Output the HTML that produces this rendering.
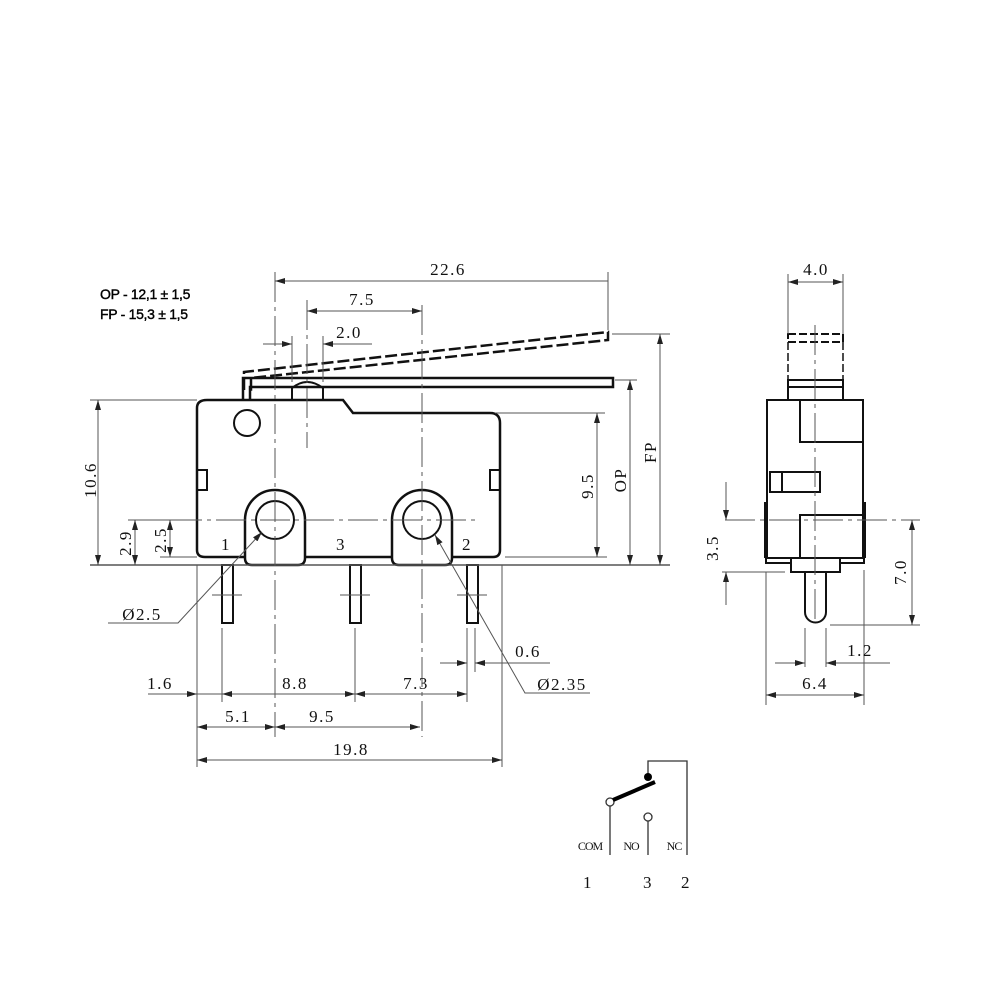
<!DOCTYPE html>
<html><head><meta charset="utf-8"><style>
html,body{margin:0;padding:0;background:#fff;}
svg{display:block;}
text{font-family:"Liberation Serif",serif;font-size:17px;fill:#111;letter-spacing:1.5px;}
.s{font-family:"Liberation Sans",sans-serif;font-size:14px;letter-spacing:-0.3px;fill:#000;stroke:#000;stroke-width:0.4px;}
</style></head><body>
<svg width="1000" height="1000" viewBox="0 0 1000 1000" xmlns="http://www.w3.org/2000/svg">
<defs>
<marker id="a" viewBox="0 0 10 6" refX="10" refY="3" markerWidth="10" markerHeight="6" orient="auto-start-reverse" markerUnits="userSpaceOnUse"><path d="M0,0 L10,3 L0,6 z" fill="#222"/></marker>
</defs>
<g fill="none" stroke="#111">
<path d="M197,408 Q197,400 207,400 L343,400 L353,413 L490,413 Q500,413 500,423 L500,550 Q500,557 493,557 L205,557 Q197,557 197,550 Z" stroke-width="2.5"/>
<circle cx="247" cy="423" r="13" stroke-width="2"/>
<rect x="197" y="470" width="10" height="20" stroke-width="2"/>
<rect x="490" y="470" width="10" height="20" stroke-width="2"/>
<path d="M245,558 L245,520 A30,30 0 0 1 305,520 L305,558 Q305,565 298,565 L252,565 Q245,565 245,558" fill="#fff" stroke-width="2.5"/>
<circle cx="275" cy="520" r="19" stroke-width="2"/>
<path d="M392,558 L392,520 A30,30 0 0 1 452,520 L452,558 Q452,565 445,565 L399,565 Q392,565 392,558" fill="#fff" stroke-width="2.5"/>
<circle cx="422" cy="520" r="19" stroke-width="2"/>
<path d="M292,400 L292,388 Q307,376 323,388 L323,400" stroke-width="2"/>
<path d="M243,400 L243,378 L613,378 L613,387 L250,387 L250,400" stroke-width="2.5"/>
<path d="M244,390 L244,372 L608,332 L608,340 L251,378 L251,392" stroke-width="2.5" stroke-dasharray="12,4"/>
<rect x="222" y="565" width="11" height="58" stroke-width="2"/>
<rect x="350" y="565" width="11" height="58" stroke-width="2"/>
<rect x="467" y="565" width="11" height="58" stroke-width="2"/>
</g>
<g stroke="#555" stroke-width="1" fill="none">
<line x1="212" y1="595" x2="242" y2="595"/><line x1="340" y1="595" x2="370" y2="595"/><line x1="457" y1="595" x2="487" y2="595"/>
<line x1="275" y1="272" x2="275" y2="737" stroke-dasharray="30,5,4,5"/>
<line x1="422" y1="305" x2="422" y2="737" stroke-dasharray="30,5,4,5"/>
<line x1="307" y1="300" x2="307" y2="448" stroke-dasharray="30,5,4,5"/>
<line x1="128" y1="520" x2="475" y2="520" stroke-dasharray="30,5,4,5"/>
<line x1="608" y1="272" x2="608" y2="330"/>
<line x1="292" y1="336" x2="292" y2="382"/><line x1="323" y1="336" x2="323" y2="382"/>
<line x1="90" y1="400" x2="197" y2="400"/>
<line x1="90" y1="565" x2="670" y2="565" stroke-width="1.5"/>
<line x1="128" y1="520" x2="180" y2="520"/>
<line x1="160" y1="557" x2="197" y2="557"/>
<line x1="495" y1="413" x2="605" y2="413"/>
<line x1="505" y1="557" x2="607" y2="557"/>
<line x1="615" y1="380" x2="637" y2="380"/>
<line x1="612" y1="334" x2="670" y2="334"/>
<line x1="197" y1="565" x2="197" y2="767"/>
<line x1="502" y1="565" x2="502" y2="767"/>
<line x1="222" y1="628" x2="222" y2="702"/>
<line x1="355" y1="628" x2="355" y2="702"/>
<line x1="467" y1="628" x2="467" y2="702"/>
<line x1="475" y1="628" x2="475" y2="672"/>
<line x1="275" y1="281" x2="608" y2="281" marker-start="url(#a)"/>
<line x1="307" y1="311" x2="422" y2="311" marker-start="url(#a)" marker-end="url(#a)"/>
<line x1="263" y1="344" x2="292" y2="344" marker-end="url(#a)"/>
<line x1="323" y1="344" x2="372" y2="344" marker-start="url(#a)"/>
<line x1="98" y1="400" x2="98" y2="565" marker-start="url(#a)" marker-end="url(#a)"/>
<line x1="135" y1="520" x2="135" y2="565" marker-start="url(#a)" marker-end="url(#a)"/>
<line x1="170" y1="520" x2="170" y2="557" marker-start="url(#a)" marker-end="url(#a)"/>
<line x1="597" y1="413" x2="597" y2="557" marker-start="url(#a)" marker-end="url(#a)"/>
<line x1="630" y1="380" x2="630" y2="565" marker-start="url(#a)" marker-end="url(#a)"/>
<line x1="660" y1="334" x2="660" y2="565" marker-start="url(#a)" marker-end="url(#a)"/>
<line x1="148" y1="694" x2="197" y2="694" marker-end="url(#a)"/>
<line x1="197" y1="694" x2="222" y2="694"/>
<line x1="222" y1="694" x2="355" y2="694" marker-start="url(#a)" marker-end="url(#a)"/>
<line x1="355" y1="694" x2="467" y2="694" marker-start="url(#a)" marker-end="url(#a)"/>
<line x1="440" y1="663" x2="467" y2="663" marker-end="url(#a)"/>
<line x1="475" y1="663" x2="550" y2="663" marker-start="url(#a)"/>
<line x1="197" y1="727" x2="275" y2="727" marker-start="url(#a)" marker-end="url(#a)"/>
<line x1="275" y1="727" x2="420" y2="727" marker-start="url(#a)" marker-end="url(#a)"/>
<line x1="197" y1="760" x2="502" y2="760" marker-start="url(#a)" marker-end="url(#a)"/>
<path d="M108,623 L178,623 L262,532" marker-end="url(#a)"/>
<path d="M590,693 L525,693 L435,535" marker-end="url(#a)"/>
</g>
<text x="448" y="275" text-anchor="middle">22.6</text>
<text x="362" y="305" text-anchor="middle">7.5</text>
<text x="349" y="338" text-anchor="middle">2.0</text>
<text transform="translate(96,480) rotate(-90)" text-anchor="middle">10.6</text>
<text transform="translate(131,543) rotate(-90)" text-anchor="middle">2.9</text>
<text transform="translate(166,540) rotate(-90)" text-anchor="middle">2.5</text>
<text transform="translate(593,486) rotate(-90)" text-anchor="middle">9.5</text>
<text transform="translate(626,480) rotate(-90)" text-anchor="middle">OP</text>
<text transform="translate(656,452) rotate(-90)" text-anchor="middle">FP</text>
<text x="226" y="550" text-anchor="middle">1</text>
<text x="341" y="550" text-anchor="middle">3</text>
<text x="467" y="550" text-anchor="middle">2</text>
<text x="142" y="620" text-anchor="middle">Ø2.5</text>
<text x="562" y="690" text-anchor="middle">Ø2.35</text>
<text x="160" y="689" text-anchor="middle">1.6</text>
<text x="295" y="689" text-anchor="middle">8.8</text>
<text x="416" y="689" text-anchor="middle">7.3</text>
<text x="528" y="657" text-anchor="middle">0.6</text>
<text x="238" y="722" text-anchor="middle">5.1</text>
<text x="322" y="722" text-anchor="middle">9.5</text>
<text x="351" y="755" text-anchor="middle">19.8</text>
<text class="s" x="100" y="299">OP - 12,1 ± 1,5</text>
<text class="s" x="100" y="319">FP - 15,3 ± 1,5</text>

<g fill="none" stroke="#111">
<rect x="788" y="334" width="55" height="8" stroke-width="2" stroke-dasharray="8,3"/>
<line x1="788" y1="342" x2="788" y2="380" stroke-width="1.5" stroke-dasharray="8,3"/>
<line x1="843" y1="342" x2="843" y2="380" stroke-width="1.5" stroke-dasharray="8,3"/>
<rect x="788" y="380" width="55" height="20" stroke-width="2"/>
<line x1="788" y1="387" x2="843" y2="387" stroke-width="2"/>
<rect x="767" y="400" width="96" height="158" stroke-width="2"/>
<line x1="766" y1="502" x2="766" y2="558" stroke-width="4"/>
<line x1="864" y1="502" x2="864" y2="558" stroke-width="4"/>
<path d="M800,400 L800,442 L862,442" stroke-width="2"/>
<rect x="770" y="472" width="50" height="20" stroke-width="2"/>
<line x1="782" y1="472" x2="782" y2="492" stroke-width="2"/>
<path d="M800,558 L800,515 L862,515" stroke-width="2"/>
<rect x="766" y="558" width="98" height="5" stroke-width="2"/>
<rect x="791" y="558" width="49" height="14" fill="#fff" stroke-width="2"/>
<path d="M805,572 L805,612 A10.5,10.5 0 0 0 826,612 L826,572" stroke-width="2"/>
</g>
<g stroke="#555" stroke-width="1" fill="none">
<line x1="815" y1="325" x2="815" y2="622" stroke-dasharray="30,5,4,5"/>
<line x1="725" y1="520" x2="920" y2="520" stroke-dasharray="30,5,4,5"/>
<line x1="788" y1="274" x2="788" y2="334"/><line x1="843" y1="274" x2="843" y2="334"/>
<line x1="788" y1="282" x2="843" y2="282" marker-start="url(#a)" marker-end="url(#a)"/>
<line x1="722" y1="572" x2="785" y2="572"/>
<line x1="726" y1="482" x2="726" y2="520" marker-end="url(#a)"/>
<line x1="726" y1="572" x2="726" y2="605" marker-start="url(#a)"/>
<line x1="830" y1="625" x2="920" y2="625"/>
<line x1="912" y1="520" x2="912" y2="625" marker-start="url(#a)" marker-end="url(#a)"/>
<line x1="805" y1="628" x2="805" y2="667"/><line x1="826" y1="628" x2="826" y2="667"/>
<line x1="775" y1="663" x2="805" y2="663" marker-end="url(#a)"/>
<line x1="826" y1="663" x2="890" y2="663" marker-start="url(#a)"/>
<line x1="766" y1="572" x2="766" y2="705"/><line x1="864" y1="570" x2="864" y2="705"/>
<line x1="766" y1="695" x2="864" y2="695" marker-start="url(#a)" marker-end="url(#a)"/>
</g>
<text x="816" y="275" text-anchor="middle">4.0</text>
<text transform="translate(718,548) rotate(-90)" text-anchor="middle">3.5</text>
<text transform="translate(906,572) rotate(-90)" text-anchor="middle">7.0</text>
<text x="860" y="656" text-anchor="middle">1.2</text>
<text x="815" y="689" text-anchor="middle">6.4</text>

<g fill="none" stroke="#333" stroke-width="1.3">
<line x1="610" y1="806" x2="610" y2="855"/>
<line x1="648" y1="821" x2="648" y2="855"/>
<path d="M648,778 L648,761 L687,761 L687,855"/>
<circle cx="610" cy="802" r="4" fill="#fff"/>
<circle cx="648" cy="817" r="4" fill="#fff"/>
</g>
<line x1="613" y1="800" x2="655" y2="782" stroke="#000" stroke-width="4"/>
<circle cx="648" cy="777" r="4" fill="#000"/>
<text x="590" y="850" text-anchor="middle" style="font-size:12px;letter-spacing:-1px">COM</text>
<text x="631" y="850" text-anchor="middle" style="font-size:12px;letter-spacing:-1px">NO</text>
<text x="674" y="850" text-anchor="middle" style="font-size:12px;letter-spacing:-1px">NC</text>
<text x="588" y="888" text-anchor="middle" style="font-size:17px">1</text>
<text x="648" y="888" text-anchor="middle" style="font-size:17px">3</text>
<text x="686" y="888" text-anchor="middle" style="font-size:17px">2</text>
</svg>
</body></html>
